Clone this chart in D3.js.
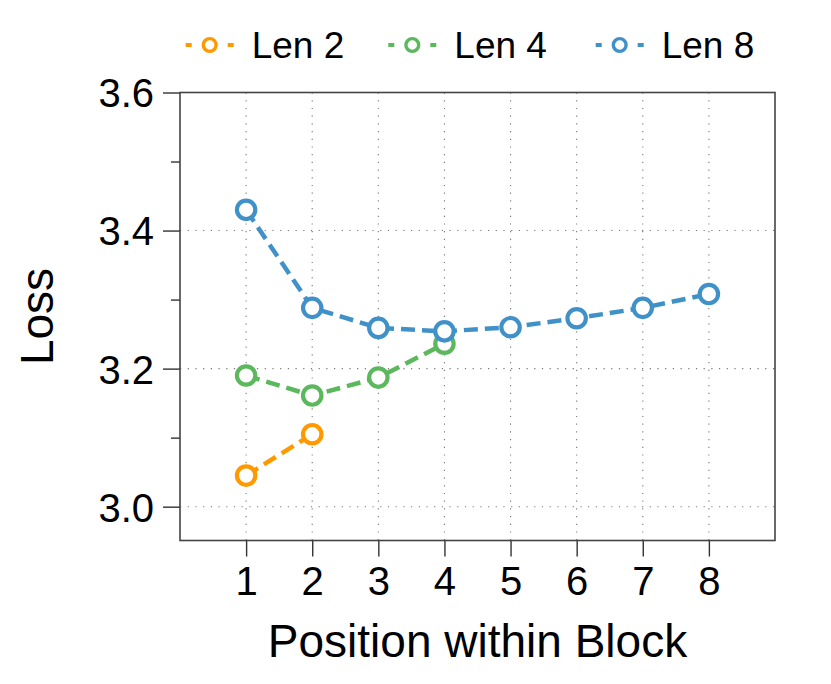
<!DOCTYPE html>
<html>
<head>
<meta charset="utf-8">
<script src="https://cdn.jsdelivr.net/npm/d3@7"></script>
<style>
  body { margin: 0; background: #fff; }
  text { font-family: "Liberation Sans", Arial, sans-serif; fill: #000; }
</style>
</head>
<body>
<script>
// data
var positions = [1, 2, 3, 4, 5, 6, 7, 8];
var seriesNames = ['Len 2', 'Len 4', 'Len 8'];
var seriesColors = ['#ff9900', '#5cb85c', '#4191c9'];
var len2 = [3.045, 3.105];
var len4 = [3.190, 3.161, 3.187, 3.236];
var len8 = [3.430, 3.288, 3.259, 3.254, 3.260, 3.273, 3.288, 3.308];
var yMajor = [3.0, 3.2, 3.4, 3.6];
var yMinor = [3.1, 3.3, 3.5];

var allSeries = [len2, len4, len8];

var width = 831, height = 684;
var margin = {left: 180, right: 56, top: 92.5, bottom: 143.5};
var pw = width - margin.left - margin.right,
    ph = height - margin.top - margin.bottom;

var svg = d3.select('body').append('svg')
            .attr('width', width)
            .attr('height', height);

var x = d3.scaleLinear().domain([0, 9]).range([0, pw]);
var y = d3.scaleLinear().domain([2.951, 3.6]).range([ph, 0]);

var g = svg.append('g').attr('transform', 'translate(' + margin.left + ',' + margin.top + ')');

// grid
g.selectAll('line.vgrid').data(positions).enter().append('line')
  .attr('class', 'vgrid')
  .attr('x1', function(d){ return x(d); }).attr('x2', function(d){ return x(d); })
  .attr('y1', 0).attr('y2', ph)
  .attr('stroke', '#777').attr('stroke-width', 1.1)
  .attr('stroke-dasharray', '1.2,6.5');
g.selectAll('line.hgrid').data(yMajor).enter().append('line')
  .attr('class', 'hgrid')
  .attr('x1', 0).attr('x2', pw)
  .attr('y1', function(d){ return y(d); }).attr('y2', function(d){ return y(d); })
  .attr('stroke', '#777').attr('stroke-width', 1.1)
  .attr('stroke-dasharray', '1.2,6.5');

// axes
var xAxis = g.append('g').attr('transform', 'translate(0,' + ph + ')')
  .call(d3.axisBottom(x).tickValues(positions).tickSize(16).tickPadding(10).tickFormat(d3.format('d')));
var yAxis = g.append('g')
  .call(d3.axisLeft(y).tickValues(yMajor).tickSize(17).tickPadding(9).tickFormat(d3.format('.1f')));
var yMinorAxis = g.append('g')
  .call(d3.axisLeft(y).tickValues(yMinor).tickSize(9).tickFormat(''));

[xAxis, yAxis, yMinorAxis].forEach(function(a){
  a.select('.domain').remove();
  a.selectAll('.tick line').attr('stroke', '#333').attr('stroke-width', 1.4);
  a.selectAll('.tick text').style('font-size', '40px').attr('fill', '#000');
});
yAxis.selectAll('.tick text').attr('dy', '0.36em');
xAxis.selectAll('.tick text').attr('dy', '0.72em');

// frame
g.append('rect').attr('x', 0).attr('y', 0).attr('width', pw).attr('height', ph)
  .attr('fill', 'none').attr('stroke', '#444').attr('stroke-width', 1.6);

// series
var line = d3.line()
  .x(function(d, i){ return x(positions[i]); })
  .y(function(d){ return y(d); });

allSeries.forEach(function(s, k){
  g.append('path').datum(s)
    .attr('d', line)
    .attr('fill', 'none')
    .attr('stroke', seriesColors[k])
    .attr('stroke-width', 4.5)
    .attr('stroke-dasharray', '14,7');
});
allSeries.forEach(function(s, k){
  g.selectAll('circle.s' + k).data(s).enter().append('circle')
    .attr('class', 's' + k)
    .attr('cx', function(d, i){ return x(positions[i]); })
    .attr('cy', function(d){ return y(d); })
    .attr('r', 9.2)
    .attr('fill', '#fff')
    .attr('stroke', seriesColors[k])
    .attr('stroke-width', 4.2);
});

// axis titles
svg.append('text')
  .attr('x', margin.left + pw / 2).attr('y', 657)
  .attr('text-anchor', 'middle')
  .style('font-size', '46px')
  .text('Position within Block');
svg.append('text')
  .attr('transform', 'translate(53,' + (margin.top + ph / 2) + ') rotate(-90)')
  .attr('text-anchor', 'middle')
  .style('font-size', '46px')
  .text('Loss');

// legend
var legX = [185.7, 388.3, 595.7];
var leg = svg.selectAll('g.leg').data(seriesNames).enter().append('g')
  .attr('class', 'leg')
  .attr('transform', function(d, i){ return 'translate(' + legX[i] + ',45)'; });
leg.append('line')
  .attr('x1', 0).attr('x2', 48).attr('y1', 0).attr('y2', 0)
  .attr('stroke', function(d, i){ return seriesColors[i]; })
  .attr('stroke-width', 4)
  .attr('stroke-dasharray', '6,36');
leg.append('circle')
  .attr('cx', 24).attr('cy', 0).attr('r', 6.4)
  .attr('fill', '#fff')
  .attr('stroke', function(d, i){ return seriesColors[i]; })
  .attr('stroke-width', 3.4);
leg.append('text')
  .attr('x', 66).attr('y', 13.3)
  .style('font-size', '37px')
  .text(function(d){ return d; });
</script>
</body>
</html>
